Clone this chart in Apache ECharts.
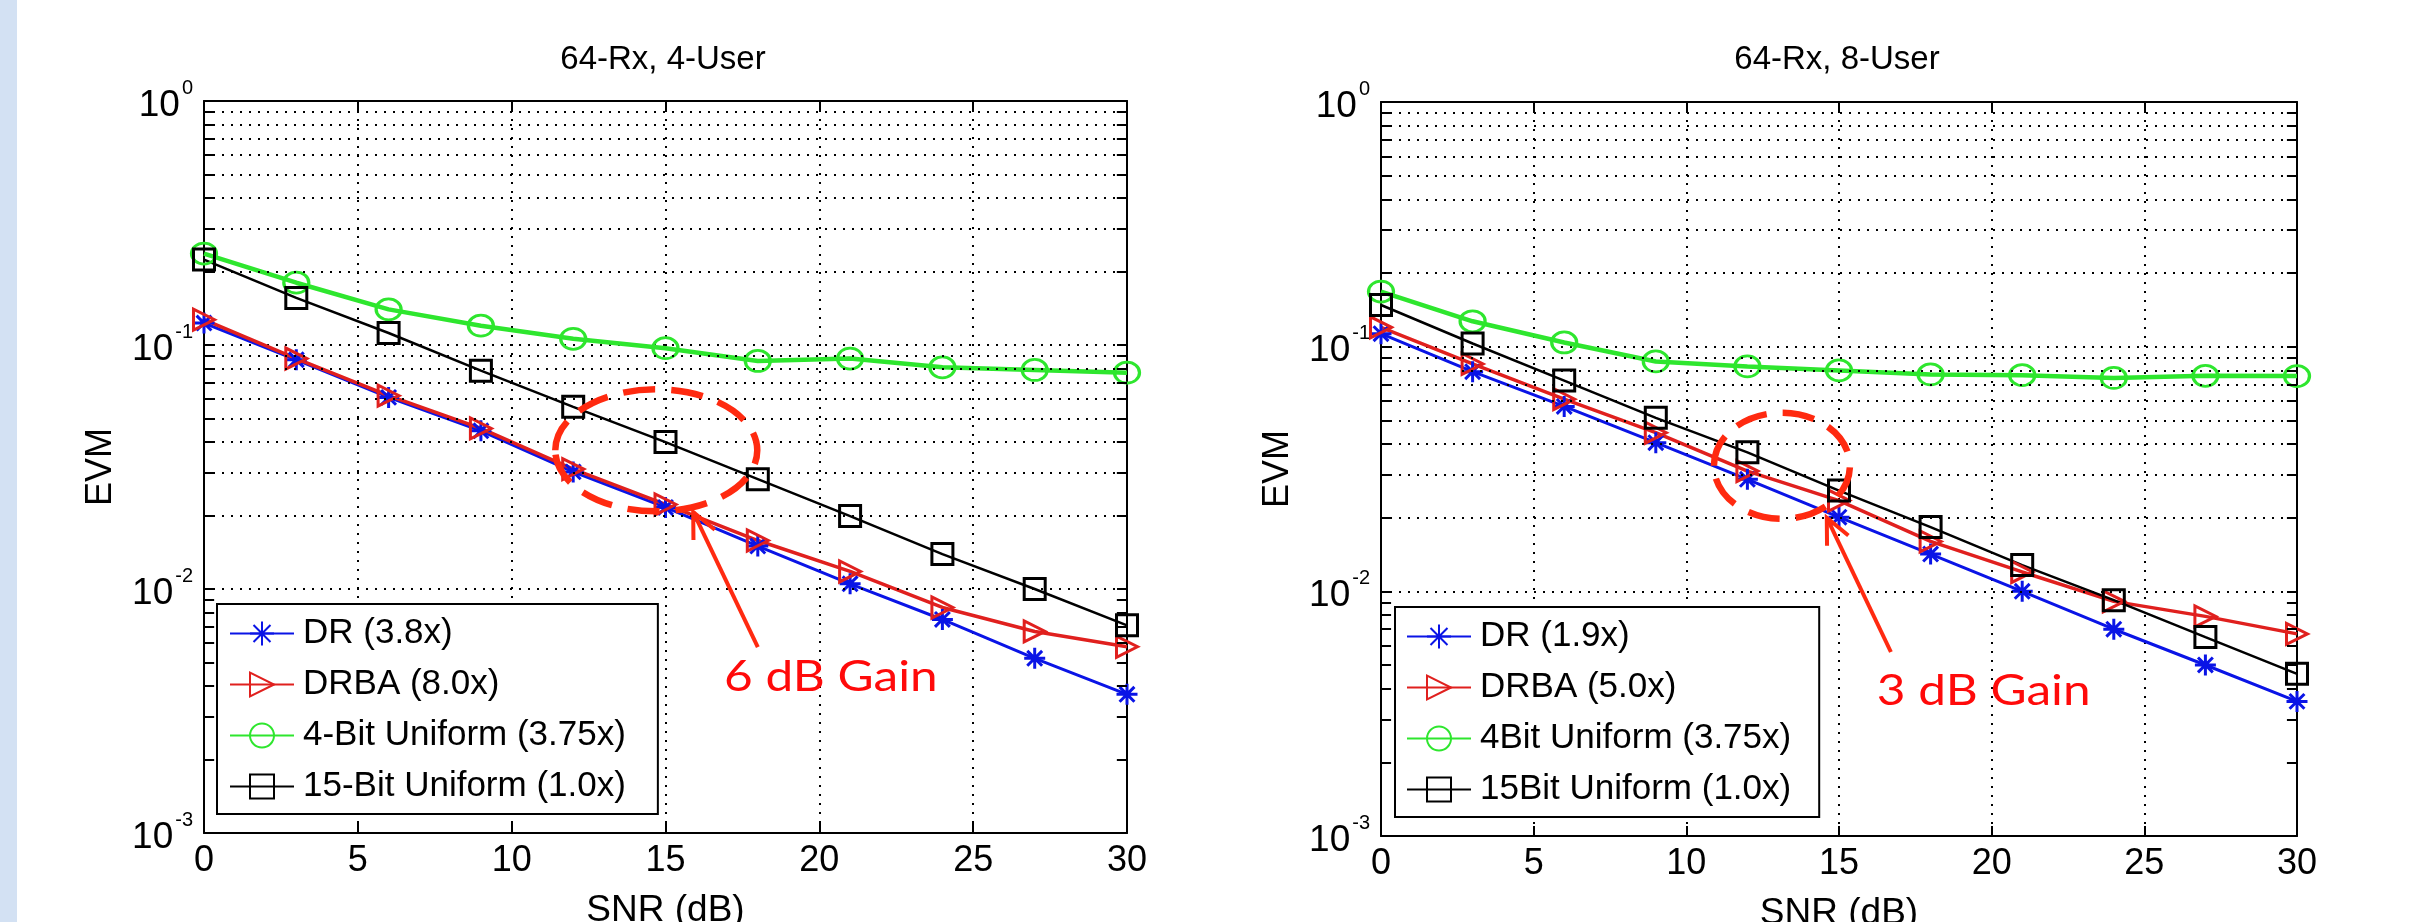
<!DOCTYPE html>
<html><head><meta charset="utf-8">
<script src="https://cdn.jsdelivr.net/npm/echarts@6/dist/echarts.min.js"></script>
<style>html,body{margin:0;padding:0;background:#fff;}#c{width:2414px;height:922px;}</style>
</head><body><div id="c"></div>
<script>
// ---------- data ----------
const snr = [0, 3, 6, 9, 12, 15, 18, 21, 24, 27, 30];
const xTickStep = 5;
const yMin = 0.001, yMax = 1;
const decades = [0.001, 0.01, 0.1];
const minorFactors = [2, 3, 4, 5, 6, 7, 8, 9];

const titleLeft = '64-Rx, 4-User';
const titleRight = '64-Rx, 8-User';
const xName = 'SNR (dB)';
const yName = 'EVM';

const namesLeft = ['DR (3.8x)', 'DRBA (8.0x)', '4-Bit Uniform (3.75x)', '15-Bit Uniform (1.0x)'];
const namesRight = ['DR (1.9x)', 'DRBA (5.0x)', '4Bit Uniform (3.75x)', '15Bit Uniform (1.0x)'];

// 64-Rx, 4-User
const drL    = [0.123, 0.087, 0.061, 0.0445, 0.0302, 0.0216, 0.0150, 0.0105, 0.0075, 0.0052, 0.0037];
const drbaL  = [0.127, 0.088, 0.062, 0.0455, 0.0310, 0.0222, 0.0158, 0.0118, 0.0084, 0.0067, 0.0058];
const bit4L  = [0.237, 0.180, 0.140, 0.120, 0.106, 0.097, 0.086, 0.088, 0.081, 0.079, 0.077];
const bit15L = [0.224, 0.156, 0.112, 0.0785, 0.0558, 0.0400, 0.0282, 0.0199, 0.0139, 0.0100, 0.0071];

// 64-Rx, 8-User
const drR    = [0.113, 0.079, 0.057, 0.0405, 0.0287, 0.0201, 0.0142, 0.0100, 0.0070, 0.0050, 0.00355];
const drbaR  = [0.120, 0.085, 0.061, 0.0445, 0.0310, 0.0235, 0.0160, 0.0120, 0.0091, 0.0079, 0.0067];
const bit4R  = [0.168, 0.127, 0.104, 0.087, 0.083, 0.080, 0.077, 0.0765, 0.0745, 0.076, 0.0758];
const bit15R = [0.148, 0.103, 0.0727, 0.0512, 0.0370, 0.0258, 0.0183, 0.0128, 0.0092, 0.0065, 0.0046];

// annotations (data coordinates)
const annoLeft  = { text: '6 dB Gain', ellipse: [14.7, 0.037], tip: [15.9, 0.0207], tail: [18.0, 0.00578], label: [16.9, 0.00432] };
const annoRight = { text: '3 dB Gain', ellipse: [13.13, 0.0326], tip: [14.6, 0.0200], tail: [16.7, 0.00565], label: [16.24, 0.00388] };

// ---------- styles ----------
const FONT = 'Liberation Sans, Arial, Helvetica, sans-serif';
const BLUE = '#0a14e6', RED = '#e0201e', GREEN = '#2ee62e', BLACK = '#000';
const ANNO = '#ff2a10';
const asterisk = 'path://M0,-10L0,10M-10,0L10,0M-7.07,-7.07L7.07,7.07M-7.07,7.07L7.07,-7.07';

const chart = echarts.init(document.getElementById('c'), null, { renderer: 'canvas' });

function xAxes(g) {
  const common = { gridIndex: g, type: 'value', min: 0, max: 30, interval: xTickStep,
    axisLine: { show: true, onZero: false, lineStyle: { color: BLACK, width: 2 } },
    axisTick: { show: true, inside: true, length: 10, lineStyle: { color: BLACK, width: 2 } } };
  return [
    Object.assign({}, common, { position: 'bottom',
      axisLabel: { fontSize: 36, color: BLACK, margin: 10, fontFamily: FONT },
      splitLine: { show: true, lineStyle: { color: BLACK, type: [2, 7], width: 2 } },
      name: xName, nameLocation: 'middle', nameGap: 59,
      nameTextStyle: { fontSize: 37, color: BLACK, fontFamily: FONT } }),
    Object.assign({}, common, { position: 'top', axisLabel: { show: false }, splitLine: { show: false } })
  ];
}
function yAxes(g) {
  const common = { gridIndex: g, type: 'log', logBase: 10, min: yMin, max: yMax,
    axisLine: { show: true, onZero: false, lineStyle: { color: BLACK, width: 2 } },
    axisTick: { show: true, inside: true, length: 10, lineStyle: { color: BLACK, width: 2 } } };
  return [
    Object.assign({}, common, { position: 'left',
      axisLabel: { margin: 11, fontFamily: FONT,
        formatter: v => '{b|10}{s|' + Math.round(Math.log10(v)) + '}',
        rich: { b: { fontSize: 37, color: BLACK, fontFamily: FONT, lineHeight: 46, verticalAlign: 'bottom' },
                s: { fontSize: 20, color: BLACK, fontFamily: FONT, lineHeight: 20, verticalAlign: 'top', padding: [0, 0, 12, 2] } } },
      splitLine: { show: true, lineStyle: { color: BLACK, type: [2, 7], width: 2 } },
      name: yName, nameLocation: 'middle', nameGap: 85,
      nameTextStyle: { fontSize: 36, color: BLACK, fontFamily: FONT } }),
    Object.assign({}, common, { position: 'right', axisLabel: { show: false }, splitLine: { show: false } })
  ];
}

function minorGrid(g) {
  const vals = [];
  decades.forEach(d => minorFactors.forEach(f => vals.push(+(d * f).toPrecision(3))));
  const data = vals.map(v => ({ yAxis: v }));
  const tickStyle = { type: 'solid', width: 2, color: BLACK };
  vals.forEach(v => {
    data.push([{ coord: [0, v], lineStyle: tickStyle }, { coord: [0.33, v], lineStyle: tickStyle }]);
    data.push([{ coord: [29.67, v], lineStyle: tickStyle }, { coord: [30, v], lineStyle: tickStyle }]);
  });
  return { name: 'grid' + g, type: 'line', xAxisIndex: g * 2, yAxisIndex: g * 2, data: [], z: 1,
    markLine: { silent: true, symbol: ['none', 'none'], label: { show: false }, animation: false,
      lineStyle: { color: BLACK, type: [2, 7], width: 2 }, emphasis: { disabled: true }, data: data } };
}

function ser(name, vals, g, kind) {
  const base = { name: name, type: 'line', xAxisIndex: g * 2, yAxisIndex: g * 2, z: 3,
    data: snr.map((x, i) => [x, vals[i]]), showAllSymbol: true, animation: false,
    emphasis: { disabled: true } };
  if (kind === 'dr') return Object.assign(base, { symbol: asterisk, symbolSize: 21,
    lineStyle: { color: BLUE, width: 3 }, itemStyle: { color: BLUE, borderColor: BLUE, borderWidth: 3 } });
  if (kind === 'drba') return Object.assign(base, { symbol: 'triangle', symbolRotate: -90, symbolSize: 21,
    lineStyle: { color: RED, width: 3.5 }, itemStyle: { color: 'rgba(0,0,0,0)', borderColor: RED, borderWidth: 3 } });
  if (kind === 'b4') return Object.assign(base, { symbol: 'circle', symbolSize: [25, 21],
    lineStyle: { color: GREEN, width: 4.5 }, itemStyle: { color: 'rgba(0,0,0,0)', borderColor: GREEN, borderWidth: 3 } });
  return Object.assign(base, { symbol: 'rect', symbolSize: 21,
    lineStyle: { color: BLACK, width: 2.5 }, itemStyle: { color: 'rgba(0,0,0,0)', borderColor: BLACK, borderWidth: 3 } });
}

function legend(names, left, top, padRight, padLeft) {
  return { data: names, orient: 'vertical', left: left, top: top, itemWidth: 64, itemHeight: 30, itemGap: 16,
    backgroundColor: '#fff', borderColor: BLACK, borderWidth: 2, borderRadius: 0,
    padding: [12, padRight, 10, padLeft], selectedMode: false,
    textStyle: { fontSize: 35, color: BLACK, fontFamily: FONT, padding: [0, 0, 0, 4] } };
}

const option = {
  backgroundColor: '#fff',
  animation: false,
  title: [
    { text: titleLeft, left: 658, top: 38, textAlign: 'center',
      textStyle: { fontSize: 33, fontWeight: 'normal', color: BLACK, fontFamily: FONT } },
    { text: titleRight, left: 1832, top: 38, textAlign: 'center',
      textStyle: { fontSize: 33, fontWeight: 'normal', color: BLACK, fontFamily: FONT } }
  ],
  grid: [
    { left: 204, top: 101, width: 923, height: 732, containLabel: false, outerBoundsMode: 'none' },
    { left: 1381, top: 102, width: 916, height: 734, containLabel: false, outerBoundsMode: 'none' }
  ],
  xAxis: xAxes(0).concat(xAxes(1)),
  yAxis: yAxes(0).concat(yAxes(1)),
  legend: [legend(namesLeft, 217, 604, 32, 12), legend(namesRight, 1395, 607, 28, 11)],
  series: [
    minorGrid(0), minorGrid(1),
    ser(namesLeft[0], drL, 0, 'dr'), ser(namesLeft[1], drbaL, 0, 'drba'),
    ser(namesLeft[2], bit4L, 0, 'b4'), ser(namesLeft[3], bit15L, 0, 'b15'),
    ser(namesRight[0], drR, 1, 'dr'), ser(namesRight[1], drbaR, 1, 'drba'),
    ser(namesRight[2], bit4R, 1, 'b4'), ser(namesRight[3], bit15R, 1, 'b15')
  ]
};
chart.setOption(option);

function annoGraphics(a, g, rx, ry) {
  const P = p => chart.convertToPixel({ xAxisIndex: g * 2, yAxisIndex: g * 2 }, p);
  const c = P(a.ellipse), tip = P(a.tip), tail = P(a.tail), lab = P(a.label);
  const dx = tail[0] - tip[0], dy = tail[1] - tip[1], L = Math.hypot(dx, dy);
  const ux = dx / L, uy = dy / L, bl = 28, ang = 25 * Math.PI / 180;
  const rot = (s) => [tip[0] + bl * (ux * Math.cos(s) - uy * Math.sin(s)), tip[1] + bl * (ux * Math.sin(s) + uy * Math.cos(s))];
  const b1 = rot(ang), b2 = rot(-ang);
  return [
    { type: 'ellipse', z: 50, shape: { cx: c[0], cy: c[1], rx: rx, ry: ry },
      style: { fill: 'none', stroke: ANNO, lineWidth: 6.5, lineDash: [32, 16] } },
    { type: 'line', z: 50, shape: { x1: tip[0], y1: tip[1], x2: tail[0], y2: tail[1] },
      style: { stroke: ANNO, lineWidth: 4 } },
    { type: 'polyline', z: 50, shape: { points: [b1, tip, b2] },
      style: { fill: 'none', stroke: ANNO, lineWidth: 4 } },
    { type: 'text', z: 50, x: lab[0], y: lab[1], scaleX: 1.18,
      style: { text: a.text, fill: '#ff0a0a', fontSize: 42, fontFamily: 'Lato, Open Sans, sans-serif',
        align: 'left', verticalAlign: 'middle' } }
  ];
}

chart.setOption({
  graphic: [
    { type: 'rect', z: -10, shape: { x: 0, y: 0, width: 17, height: 922 }, style: { fill: '#d3e1f3' } }
  ].concat(annoGraphics(annoLeft, 0, 101, 61), annoGraphics(annoRight, 1, 68, 53))
});
</script>
</body></html>
